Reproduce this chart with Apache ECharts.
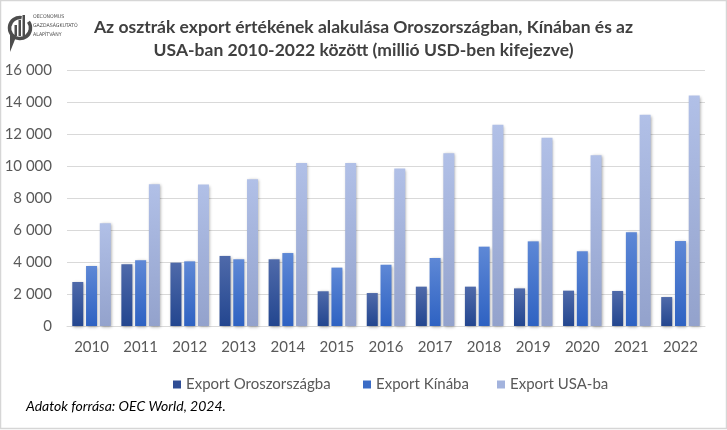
<!DOCTYPE html>
<html>
<head>
<meta charset="utf-8">
<script src="https://cdn.jsdelivr.net/npm/echarts@6/dist/echarts.min.js"></script>
<style>
html,body{margin:0;padding:0;background:#fff;}
#chart{width:727px;height:430px;}
</style>
</head>
<body>
<div id="chart"></div>
<script>
var categories = ['2010','2011','2012','2013','2014','2015','2016','2017','2018','2019','2020','2021','2022'];
var exportRussia = [2750, 3860, 3960, 4380, 4170, 2170, 2060, 2460, 2460, 2350, 2210, 2190, 1810];
var exportChina  = [3750, 4110, 4040, 4170, 4560, 3650, 3830, 4250, 4960, 5290, 4670, 5860, 5310];
var exportUSA    = [6420, 8860, 8840, 9170, 10190, 10190, 9840, 10790, 12580, 11770, 10670, 13210, 14400];
var seriesNames = ['Export Oroszországba', 'Export Kínába', 'Export USA-ba'];
var titleLines = ['Az osztrák export értékének alakulása Oroszországban, Kínában és az', 'USA-ban 2010-2022 között (millió USD-ben kifejezve)'];
var sourceText = 'Adatok forrása: OEC World, 2024.';
var logoLines = ['OECONOMUS', 'GAZDASÁGKUTATÓ', 'ALAPÍTVÁNY'];

var FONT = 'Lato, "Open Sans", sans-serif';
function grad(top, bottom) {
  return new echarts.graphic.LinearGradient(0, 0, 0, 1, [
    {offset: 0, color: top}, {offset: 1, color: bottom}
  ]);
}
var barShadow = {shadowColor: 'rgba(0,0,0,0.35)', shadowBlur: 3, shadowOffsetX: 1, shadowOffsetY: 1};
function mkSeries(name, data, top, bottom) {
  return {
    name: name, type: 'bar', data: data, barWidth: 11, barGap: '25%',
    itemStyle: Object.assign({color: grad(top, bottom)}, barShadow),
    emphasis: {disabled: true}
  };
}
var legendColors = ['#2f4d95', '#3b6cc6', '#a3b3dd'];
var legendLefts = [168, 358, 492];

var chart = echarts.init(document.getElementById('chart'), null, {renderer: 'canvas'});
var option = {
  animation: false,
  backgroundColor: '#ffffff',
  title: {
    text: titleLines.join('\n'), left: 'center', top: 11,
    textStyle: {fontFamily: FONT, fontWeight: 'bold', fontSize: 17.5, color: '#404040', lineHeight: 23}
  },
  legend: seriesNames.map(function (n, i) {
    return {
      data: [{name: n, itemStyle: {color: legendColors[i]}}], left: legendLefts[i], top: 372,
      itemWidth: 8, itemHeight: 8, itemGap: 20, icon: 'rect',
      textStyle: {fontFamily: FONT, fontSize: 15, color: '#595959'}
    };
  }),
  grid: {left: 67, right: 22, top: 70, bottom: 104},
  xAxis: {
    type: 'category', data: categories,
    axisLine: {lineStyle: {color: '#d9d9d9', width: 1}},
    axisTick: {show: false},
    axisLabel: {fontFamily: FONT, fontSize: 15, color: '#595959', margin: 14}
  },
  yAxis: {
    type: 'value', min: 0, max: 16000, interval: 2000,
    axisLine: {show: false}, axisTick: {show: false},
    splitLine: {lineStyle: {color: '#d9d9d9', width: 1}},
    axisLabel: {
      fontFamily: FONT, fontSize: 15, color: '#595959', margin: 15,
      formatter: function (v) { return String(v).replace(/\B(?=(\d{3})+(?!\d))/g, ' '); }
    }
  },
  series: [
    mkSeries(seriesNames[0], exportRussia, '#4f6aaa', '#23468f'),
    mkSeries(seriesNames[1], exportChina, '#5e88d6', '#2e62c2'),
    mkSeries(seriesNames[2], exportUSA, '#b1c0e7', '#93a2cc')
  ],
  graphic: [
    {type: 'rect', shape: {x: 0.5, y: 0.5, width: 726, height: 428}, style: {fill: 'none', stroke: '#d6d6d6', lineWidth: 1.5}, silent: true},
    {type: 'text', left: 26, top: 399, style: {text: sourceText, fontFamily: FONT, fontStyle: 'italic', fontSize: 14, fill: '#000000'}},
    // logo icon
    {type: 'arc', shape: {cx: 20, cy: 28, r: 10.5, startAngle: -Math.PI * 0.2, endAngle: Math.PI * 1.55, clockwise: true}, style: {stroke: '#4d4d4d', lineWidth: 3.5, fill: null}, z: 10},
    {type: 'rect', shape: {x: 14.5, y: 25, width: 2.5, height: 11}, style: {fill: '#4d4d4d'}, z: 10},
    {type: 'rect', shape: {x: 18.5, y: 20, width: 2.5, height: 16}, style: {fill: '#4d4d4d'}, z: 10},
    {type: 'rect', shape: {x: 22.5, y: 15, width: 2.5, height: 21}, style: {fill: '#4d4d4d'}, z: 10},
    {type: 'polygon', shape: {points: [[10, 33], [16, 37], [10, 52]]}, style: {fill: '#4d4d4d'}, z: 10},
    {type: 'text', left: 33, top: 12, style: {text: logoLines.join('\n'), fontFamily: '"Liberation Sans Narrow", "DejaVu Sans Condensed", "Liberation Sans", sans-serif', fontSize: 5.2, lineHeight: 9, fill: '#4d4d4d'}, z: 10}
  ]
};
chart.setOption(option);
</script>
</body>
</html>
